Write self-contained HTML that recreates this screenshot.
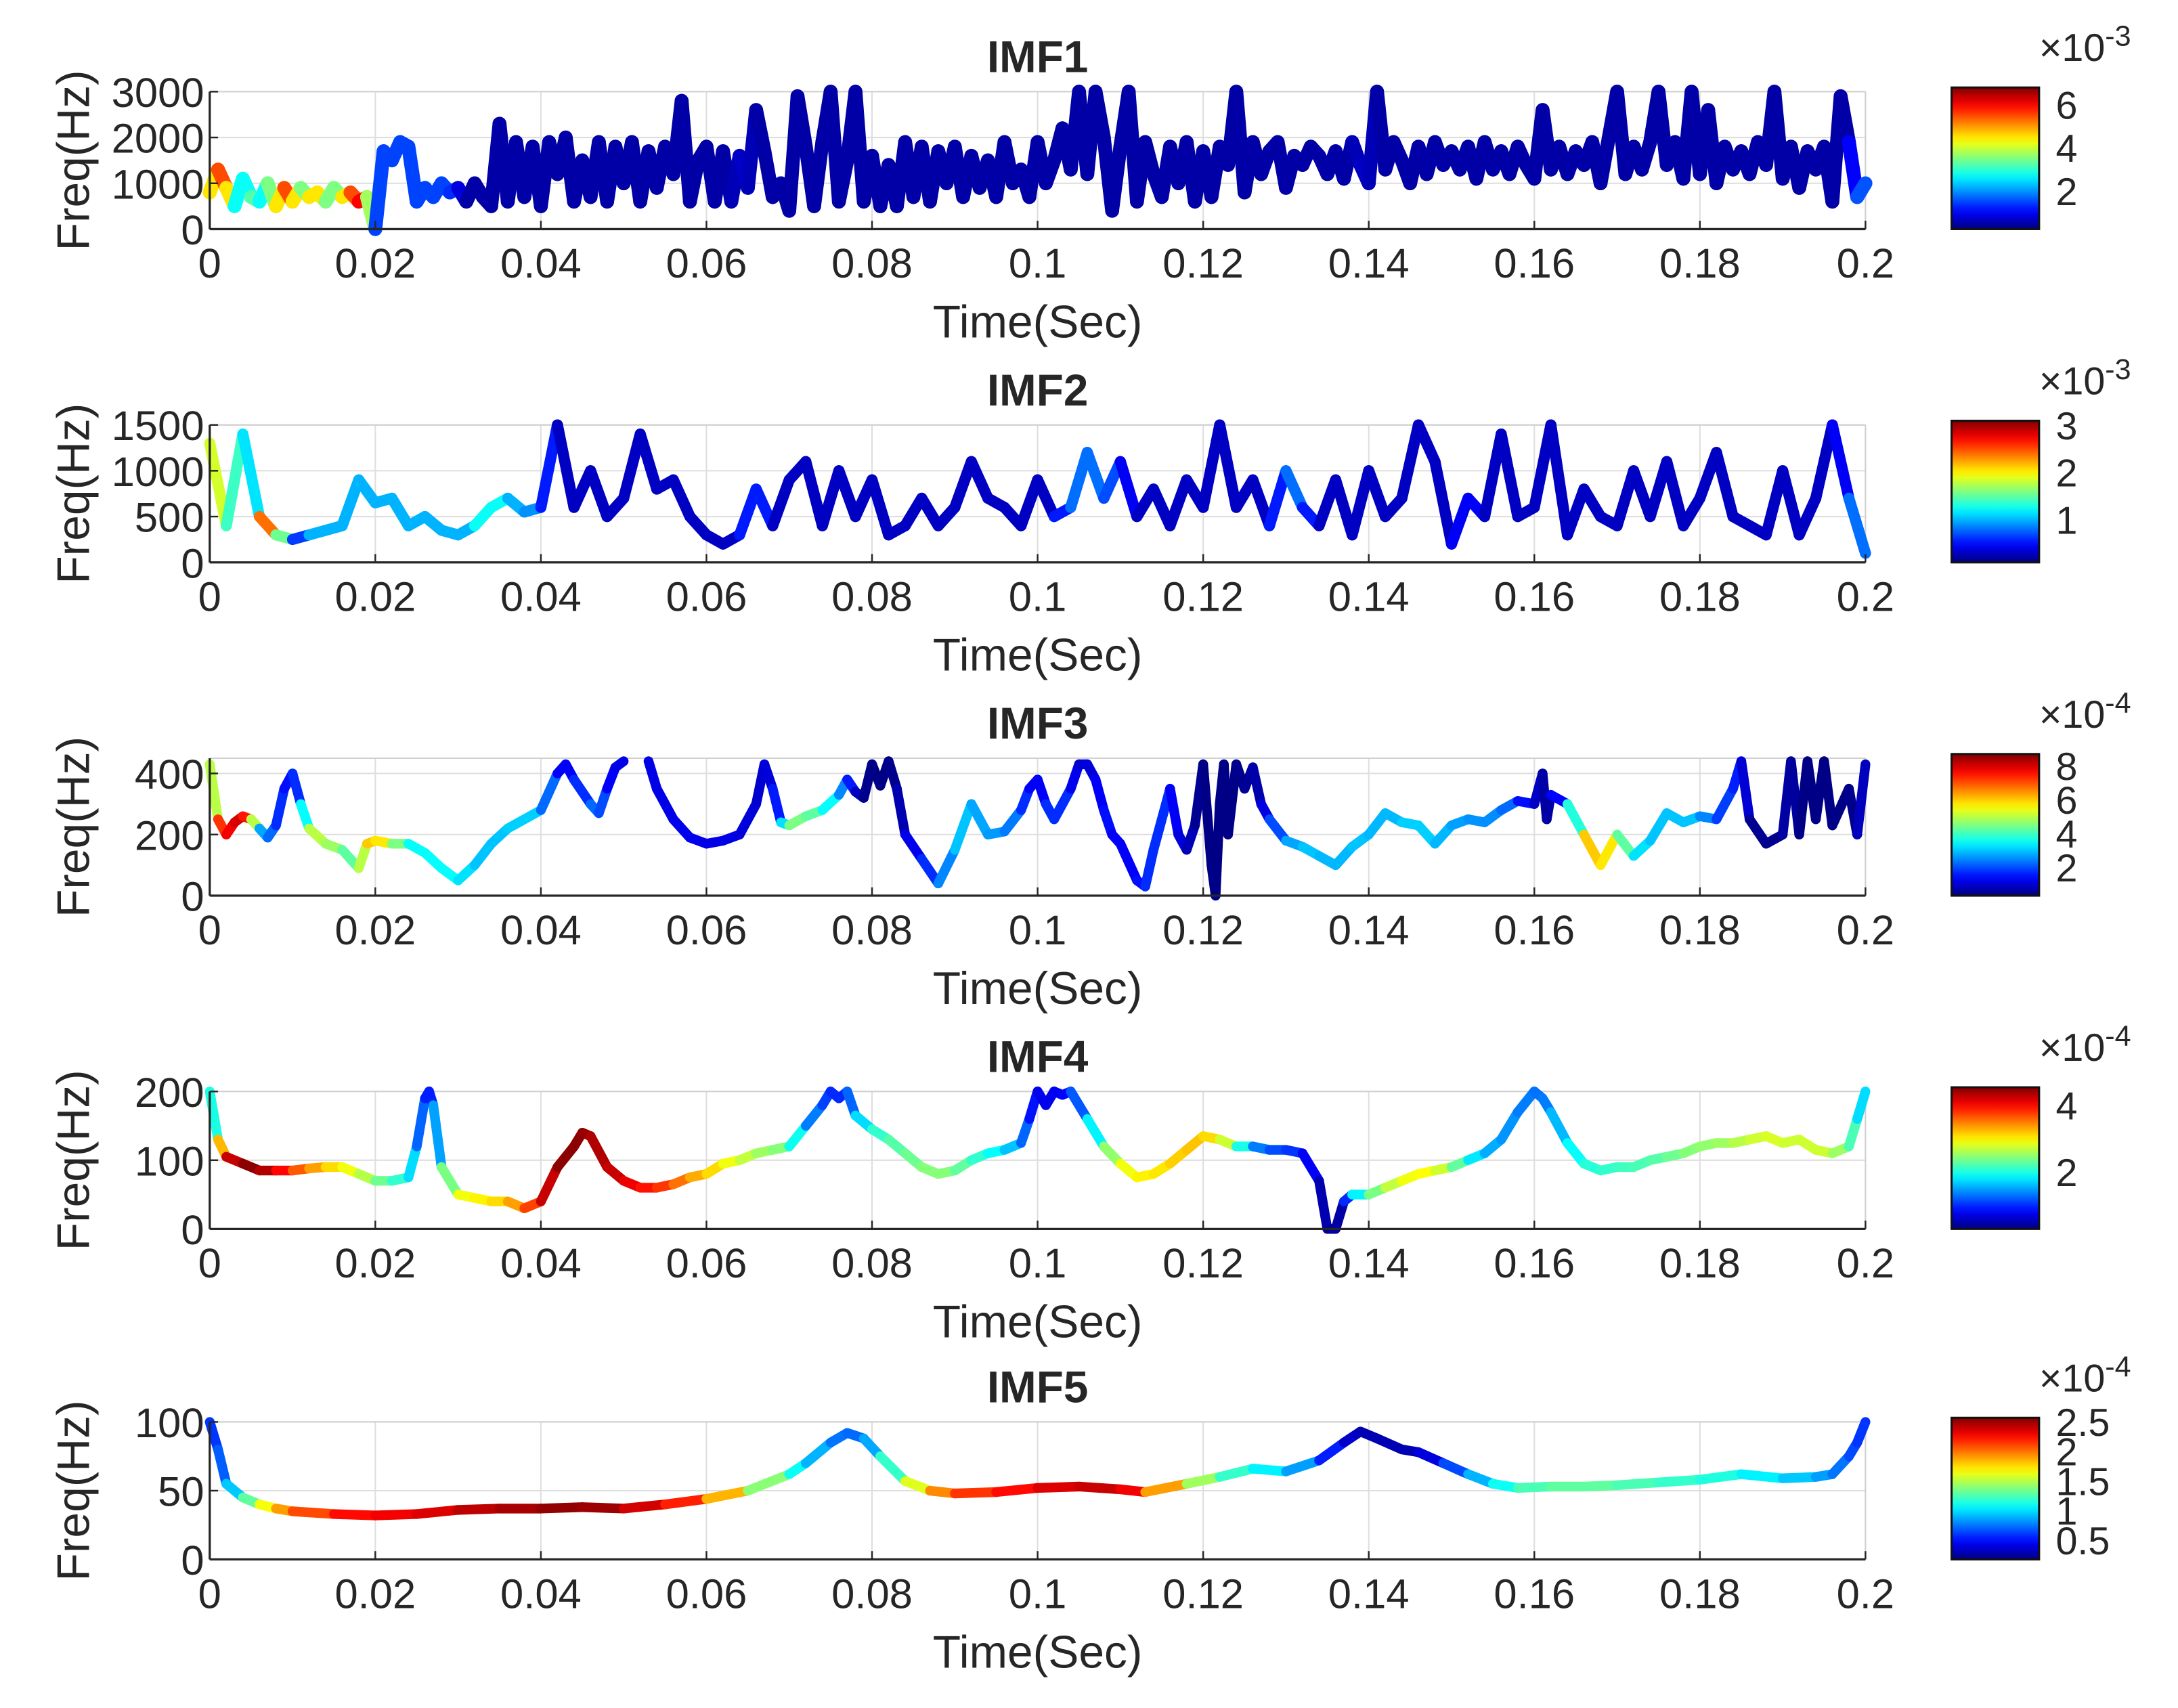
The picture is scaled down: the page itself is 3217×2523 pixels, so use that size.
<!DOCTYPE html>
<html><head><meta charset="utf-8"><style>
html,body{margin:0;padding:0;background:#fff;}
svg{display:block;}
text{font-family:"Liberation Sans",Arial,sans-serif;fill:#262626;}
</style></head><body>
<svg id="fig" width="3217" height="2523" viewBox="0 0 1568 1230" preserveAspectRatio="none" xmlns="http://www.w3.org/2000/svg"></svg>
<script>
// ---------- DATA ----------
// IMF1: sampled every 1 ms
const imf1F=[800,1300,900,500,1100,700,600,1000,500,900,600,900,700,800,600,900,700,800,600,700,
0,1700,1500,1900,1800,600,900,700,1000,800,900,600,1000,700,500,2300,600,1900,700,1800,
500,1900,1200,2000,600,1500,700,1900,600,1800,1000,1900,600,1700,900,1800,1200,2800,600,1500,
1800,600,1700,600,1600,900,2600,1700,700,1000,400,2900,1800,500,1900,3000,600,1500,3000,600,
1600,500,1400,500,1900,700,1800,600,1700,1000,1800,700,1600,900,1500,700,1900,1000,1300,700,
1900,1000,1500,2200,1300,3000,1200,3000,2000,400,1800,3000,600,1900,1200,700,1800,1000,1900,600,
1700,700,1800,1400,3000,800,1900,1200,1700,1900,900,1600,1400,1800,1600,1200,1700,1100,1900,1400,
1000,3000,1300,1900,1500,1000,1800,1200,1900,1400,1700,1300,1800,1100,1900,1300,1700,1200,1800,1400,
1100,2600,1300,1800,1200,1700,1400,1900,1000,2000,3000,1200,1800,1300,1900,3000,1400,1900,1100,3000,
1200,2600,1000,1800,1300,1700,1200,1900,1400,3000,1100,1800,900,1700,1300,1800,600,2900,1900,700,1000];
const imf1A=[3,6,5,4,1.5,4,2.5,3,4,5,6,3,4,5,4,3,4,5,6,6,
1.5,1.5,1.5,1.5,1.5,1.5,1.5,1.5,1.5,1.5,1.2,0.5,0.5,0.5,0.5,0.5,0.5,0.5,0.5,0.5,
0.5,0.5,0.5,0.5,0.5,0.5,0.5,0.5,0.5,0.5,0.5,0.5,0.5,0.5,0.5,0.5,0.5,0.5,0.5,0.5,
0.5,0.5,0.5,0.5,0.7,0.7,0.5,0.5,0.5,0.5,0.5,0.5,0.5,0.5,0.5,0.5,0.5,0.5,0.5,0.5,
0.5,0.5,0.5,0.5,0.5,0.5,0.5,0.5,0.5,0.5,0.5,0.5,0.5,0.5,0.5,0.5,0.5,0.5,0.5,0.5,
0.5,0.5,0.5,0.5,0.5,0.5,0.5,0.5,0.5,0.5,0.5,0.5,0.5,0.5,0.5,0.5,0.5,0.5,0.5,0.5,
0.5,0.5,0.5,0.5,0.5,0.5,0.5,0.5,0.5,0.5,0.5,0.5,0.5,0.5,0.5,0.5,0.5,0.5,0.5,0.7,
0.7,0.5,0.5,0.5,0.5,0.5,0.5,0.5,0.5,0.5,0.5,0.5,0.5,0.5,0.5,0.5,0.5,0.5,0.5,0.5,
0.5,0.5,0.5,0.5,0.5,0.5,0.5,0.5,0.5,0.5,0.5,0.5,0.5,0.5,0.5,0.5,0.5,0.5,0.5,0.5,
0.5,0.5,0.5,0.5,0.5,0.5,0.5,0.5,0.5,0.5,0.5,0.5,0.5,0.5,0.5,0.5,0.5,0.5,0.5,1.6,1.6];
// IMF2: sampled every 2 ms
const imf2F=[1300,400,1400,500,300,250,300,350,400,900,
650,700,400,500,350,300,400,600,700,550,
600,1500,600,1000,500,700,1400,800,900,500,
300,200,300,800,400,900,1100,400,1000,500,
900,300,400,700,400,600,1100,700,600,400,
900,500,600,1200,700,1100,500,800,400,900,
600,1500,600,900,400,1000,600,400,900,300,
1000,500,700,1500,1100,200,700,500,1400,500,
600,1500,300,800,500,400,1000,500,1100,400,
700,1200,500,400,300,1000,300,700,1500,700,100];
const imf2A=[1.2,2.5,0.3,2,2.8,0.3,1,1,1,1,
1,1,1,1,1,1,1,1.5,1,1,
0.8,0.3,0.3,0.3,0.3,0.3,0.3,0.3,0.3,0.3,
0.3,0.3,0.3,0.8,0.3,0.3,0.3,0.3,0.3,0.3,
0.3,0.3,0.3,0.3,0.3,0.3,0.3,0.3,0.3,0.3,
0.3,0.3,0.8,0.8,0.8,0.6,0.3,0.3,0.3,0.3,
0.3,0.3,0.3,0.3,0.3,0.8,0.8,0.3,0.3,0.3,
0.3,0.3,0.3,0.3,0.3,0.3,0.6,0.3,0.3,0.3,
0.3,0.3,0.3,0.3,0.3,0.3,0.3,0.3,0.3,0.3,
0.3,0.3,0.3,0.3,0.3,0.3,0.3,0.3,0.3,0.6,1.0];
// IMF3 (t in ms)
const imf3T=[0,1,2,3,4,5,6,7,8,9,10,11,12,14,16,18,19,20,22,24,26,28,30,32,34,36,38,40,42,43,44,46,47,48,49,50,null,53,54,56,58,60,62,64,66,67,68,69,70,72,74,76,77,78,79,80,81,82,83,84,86,88,90,92,94,96,98,99,100,101,102,104,105,106,107,108,109,110,112,113,114,116,117,118,119,120,121,121.5,122,122.5,123,124,125,126,127,128,130,132,134,136,138,140,142,144,146,148,150,152,154,156,158,160,161,161.5,162,164,166,168,170,172,174,176,178,180,182,184,185,186,188,190,191,192,193,194,195,196,198,199,200];
const imf3F=[430,250,200,240,260,250,220,190,230,350,400,300,220,170,150,90,170,180,170,170,140,90,50,100,170,220,250,280,400,430,380,300,270,350,420,440,null,440,350,250,190,170,180,200,300,430,350,240,230,260,280,330,380,340,320,430,360,440,350,200,120,40,150,300,200,210,280,350,380,300,250,350,430,430,380,280,200,170,50,30,150,350,200,150,230,430,100,0,300,430,200,430,350,420,300,250,180,160,130,100,160,200,270,240,230,170,230,250,240,280,310,300,400,250,330,300,200,100,200,130,180,270,240,260,250,350,440,250,170,200,440,200,440,250,440,230,350,200,430];
const imf3A=[3,7,7.5,8,8,7,3,2.5,2,1.5,1.5,2,5,5,4.5,4,6,6,5.5,3.5,3.5,3.5,3.5,3,3,3,3.2,3,1.5,1.2,1.5,2,2.5,1.5,1.2,1.2,null,1.2,1.2,1.2,1.3,1.2,1.2,1.2,1,1,1.2,2,4.5,4.5,4,3,2,1.2,0.5,0.4,0.4,0.4,0.5,1,1.5,2,3,3,2.5,2.8,2,1.5,1.2,1.5,2,1.5,1,1,1.2,1.5,1.5,1.2,1.5,1.5,2,1.5,1.2,1,0.6,0.4,0.4,0.4,0.4,0.4,0.4,0.4,0.5,0.6,0.8,1.5,2.5,3,3,2.8,3,3,2.8,3,3.2,3,2.8,2.6,2.6,2.5,2,1,0.8,0.5,0.8,2,5.5,6.5,5,3.5,3,3,3,3,2,1.8,1.5,0.6,0.4,0.5,0.8,0.4,0.4,0.4,0.4,0.4,0.4,0.5,1.2,2.5,2.5];
// IMF4 (t in ms)
const imf4T=[0,1,2,4,6,8,10,12,14,16,18,20,22,24,25,26,26.5,27,28,30,32,34,36,38,40,42,44,45,46,48,50,52,54,56,58,60,62,64,66,68,70,72,74,75,76,77,78,80,82,84,86,88,90,92,94,96,98,99,100,101,102,103,104,106,108,110,112,114,116,118,120,122,124,126,128,130,132,134,135,136,137,138,140,142,144,146,148,150,152,154,156,158,160,161,162,164,166,168,170,172,174,176,178,180,182,184,186,188,190,192,194,196,198,199,200];
const imf4F=[200,130,105,95,85,85,85,88,90,90,80,70,70,75,120,190,200,180,90,50,45,40,40,30,40,90,120,140,135,90,70,60,60,65,75,80,95,100,110,115,120,150,180,200,190,200,165,145,130,110,90,80,85,100,110,115,125,160,200,180,200,195,200,160,120,95,75,80,95,115,135,130,120,120,115,115,110,70,0,0,40,50,50,60,70,80,85,90,100,110,130,170,200,190,170,125,95,85,90,90,100,105,110,120,125,125,130,135,125,130,115,110,120,160,200];
const imf4A=[1.5,2.5,4,4.5,4.5,4.2,3.8,3.5,3.2,3,2.8,2.5,2.2,2,1.5,1,0.9,1,2,2.8,3,3,3.2,3.5,4,4.5,4.5,4.5,4.4,4.3,4.2,4,3.9,3.7,3.4,3.2,3,2.8,2.6,2.5,2.4,1.5,1.2,1,1,1,1.5,2,2.2,2.3,2.4,2.5,2.4,2.2,2,1.8,1.5,1,0.8,0.7,0.8,0.8,0.9,1.5,2.2,2.8,3,3,3.1,3.2,3.2,3,2.5,1.5,1.2,1.1,1,0.6,0.4,0.4,0.5,1.5,2.2,2.6,2.8,3,2.9,2.6,2,1.6,1.5,1.4,1.3,1.3,1.4,1.8,2,2.1,2.1,2.2,2.2,2.3,2.4,2.5,2.5,2.6,2.7,2.8,2.8,2.7,2.8,2.7,2.4,2,1.5];
// IMF5 (t in ms)
const imf5T=[0,1,2,4,6,8,10,15,20,25,30,35,40,45,50,55,60,65,70,72,75,77,79,81,84,87,90,95,100,105,110,113,118,122,126,130,134,137,139,141,144,146,149,152,155,158,162,166,170,175,180,185,190,194,196,198,199,200];
const imf5F=[100,80,55,45,40,37,35,33,32,33,36,37,37,38,37,40,44,50,62,70,85,92,88,75,57,50,48,49,52,53,51,49,55,60,66,64,72,85,93,88,80,78,70,62,55,52,53,53,54,56,58,62,59,60,62,75,85,100];
const imf5A=[0.6,0.6,0.8,1.1,1.5,1.8,2,2.2,2.3,2.3,2.4,2.45,2.5,2.55,2.45,2.3,2.1,1.6,1.2,1.0,0.8,0.7,0.75,1,1.4,1.8,2.1,2.2,2.3,2.4,2.4,2.2,1.6,1.3,1.1,1,0.7,0.4,0.3,0.3,0.3,0.3,0.5,0.8,1,1.2,1.3,1.3,1.3,1.2,1.2,1.1,1,0.9,0.8,0.7,0.6,0.6];

const yTicks=[[0,1000,2000,3000],[0,500,1000,1500],[0,200,400],[0,100,200],[0,50,100]];
const yMax=[3000,1500,450,200,100];
const xTicks=[0,0.02,0.04,0.06,0.08,0.1,0.12,0.14,0.16,0.18,0.2];
const xTickLabels=['0','0.02','0.04','0.06','0.08','0.1','0.12','0.14','0.16','0.18','0.2'];
const cTicks=[[2,4,6],[1,2,3],[2,4,6,8],[2,4],[0.5,1,1.5,2,2.5]];
const cTickLabels=[['2','4','6'],['1','2','3'],['2','4','6','8'],['2','4'],['0.5','1','1.5','2','2.5']];
const cRange=[[0.25,6.8],[0.1,3.1],[0.35,8.7],[0.3,4.55],[0.18,2.57]];
const expLabels=['-3','-3','-4','-4','-4'];
const titles=['IMF1','IMF2','IMF3','IMF4','IMF5'];

// ---------- LAYOUT ----------
const NS='http://www.w3.org/2000/svg';
const svg=document.getElementById('fig');
const X0=151,X1=1343,TOPS=[66,306,546,786,1024],H=99;
const CBX=1405,CBW=63;
function xs(t){return X0+(t/0.2)*(X1-X0);}
function ys(p,f){return TOPS[p]+H-(f/yMax[p])*H;}
function jet(c){c=Math.max(0,Math.min(1,c));
 const cl=v=>Math.round(255*Math.max(0,Math.min(1,v)));
 return 'rgb('+cl(1.5-Math.abs(4*c-3))+','+cl(1.5-Math.abs(4*c-2))+','+cl(1.5-Math.abs(4*c-1))+')';}
function el(tag,attrs,parent){const e=document.createElementNS(NS,tag);for(const k in attrs)e.setAttribute(k,attrs[k]);(parent||svg).appendChild(e);return e;}

const defs=el('defs',{});
const series=[
 {t:imf1F.map((_,i)=>i),f:imf1F,a:imf1A,w:10},
 {t:imf2F.map((_,i)=>i*2),f:imf2F,a:imf2A,w:8},
 {t:imf3T,f:imf3F,a:imf3A,w:7},
 {t:imf4T,f:imf4F,a:imf4A,w:7},
 {t:imf5T,f:imf5F,a:imf5A,w:7}];

for(let p=0;p<5;p++){
 const g=el('g',{});
 
 
 const top=TOPS[p],bot=top+H;
 xTicks.forEach(t=>{const l=el('line',{x1:xs(t),x2:xs(t),y1:top,y2:bot,stroke:'#dedede','stroke-width':1},g);
  });
 yTicks[p].forEach(v=>{const l=el('line',{x1:X0,x2:X1,y1:ys(p,v),y2:ys(p,v),stroke:'#dedede','stroke-width':1},g);
  });
 el('line',{x1:X0,x2:X1,y1:top,y2:top,stroke:'#d0d0d0','stroke-width':1},g);
 el('line',{x1:X1,x2:X1,y1:top,y2:bot,stroke:'#d0d0d0','stroke-width':1},g);
 const s=series[p];
 const sg=el('g',{'stroke-linecap':'round','stroke-linejoin':'round',fill:'none'},g);
 
 
 const [cmin,cmax]=cRange[p];
 for(let i=0;i<s.f.length-1;i++){
  if(s.f[i]==null||s.f[i+1]==null)continue;
  const a=(s.a[i]+s.a[i+1])/2;
  const seg=el('line',{x1:xs(s.t[i]/1000),y1:ys(p,s.f[i]),x2:xs(s.t[i+1]/1000),y2:ys(p,s.f[i+1]),stroke:jet((a-cmin)/(cmax-cmin)),'stroke-width':s.w},sg);
  
  
 }
 el('line',{x1:X0,x2:X1,y1:bot,y2:bot,stroke:'#262626','stroke-width':1.6},g);
 el('line',{x1:X0,x2:X0,y1:top,y2:bot,stroke:'#262626','stroke-width':1.6},g);
 xTicks.forEach((t,i)=>{
  el('line',{x1:xs(t),x2:xs(t),y1:bot,y2:bot-6,stroke:'#262626','stroke-width':1.2},g);
  const tx=el('text',{x:xs(t),y:bot+35,'font-size':30,'text-anchor':'middle'},g);
  tx.textContent=xTickLabels[i];
  
 });
 yTicks[p].forEach(v=>{
  el('line',{x1:X0,x2:X0+6,y1:ys(p,v),y2:ys(p,v),stroke:'#262626','stroke-width':1.2},g);
  const tx=el('text',{x:X0-4,y:ys(p,v)+11,'font-size':30,'text-anchor':'end'},g);
  tx.textContent=String(v);
  
 });
 const tt=el('text',{x:(X0+X1)/2,y:top-14,'font-size':32,'font-weight':'bold','text-anchor':'middle',fill:'#000'},g);
 tt.textContent=titles[p];
 
 const xl=el('text',{x:(X0+X1)/2,y:bot+78,'font-size':33,'text-anchor':'middle'},g);
 xl.textContent='Time(Sec)';
 
 const yl=el('text',{x:0,y:0,'font-size':33,'text-anchor':'middle',transform:'translate(64,'+(top+H/2)+') rotate(-90)'},g);
 yl.textContent='Freq(Hz)';
 
 const ctop=top-3,cbot=bot;
 const grad=el('linearGradient',{id:'jet'+p,x1:0,y1:1,x2:0,y2:0},defs);
 for(let k=0;k<=20;k++){el('stop',{offset:k/20,'stop-color':jet(k/20)},grad);}
 const cb=el('rect',{x:CBX,y:ctop,width:CBW,height:cbot-ctop,fill:'url(#jet'+p+')',stroke:'#111','stroke-width':1.5},g);
 
 cTicks[p].forEach((v,i)=>{
  const yy=cbot-(v-cmin)/(cmax-cmin)*(cbot-ctop);
  const tx=el('text',{x:CBX+CBW+12,y:yy+10,'font-size':28},g);
  tx.textContent=cTickLabels[p][i];
  
 });
 const ex=el('text',{x:1468,y:top-22,'font-size':28},g);
 
 const t1=el('tspan',{},ex);t1.textContent='\u00d710';
 const t2=el('tspan',{dy:-11,'font-size':21},ex);t2.textContent=expLabels[p];
}
</script>
</body></html>
